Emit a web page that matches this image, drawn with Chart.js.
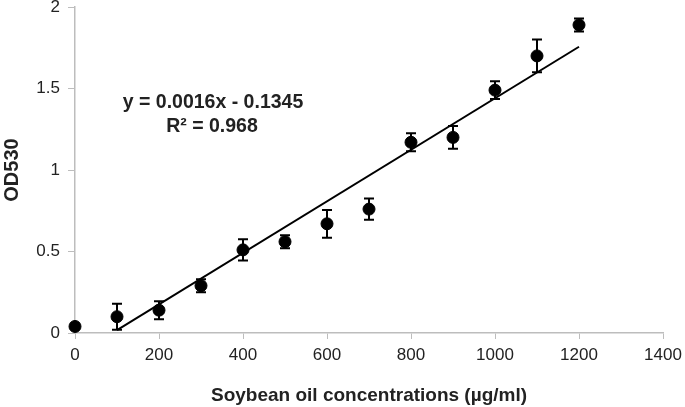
<!DOCTYPE html>
<html>
<head>
<meta charset="utf-8">
<script src="https://cdn.jsdelivr.net/npm/chart.js@4/dist/chart.umd.min.js"></script>
<style>
  html, body { margin: 0; padding: 0; background: #fff; }
  #wrap { width: 685px; height: 407px; }
</style>
</head>
<body>
<div id="wrap"><canvas id="grafico"></canvas></div>
<script>
// concentraciones y lecturas OD530
const concentraciones = [0, 100, 200, 300, 400, 500, 600, 700, 800, 900, 1000, 1100, 1200]
const od530 = [0.04, 0.10, 0.14, 0.29, 0.51, 0.56, 0.67, 0.76, 1.17, 1.20, 1.49, 1.70, 1.89]
const errores = [0, 0.08, 0.055, 0.04, 0.065, 0.04, 0.085, 0.065, 0.055, 0.07, 0.055, 0.10, 0.04]
// recta de tendencia (desde 100 hasta 1200)
const tendenciaX = [100, 1200]
const pendiente = 0.00158
const intercepto = -0.14
const ecuacion = ['y = 0.0016x - 0.1345', 'R\u00b2 = 0.968']
const xTicks = [0, 200, 400, 600, 800, 1000, 1200, 1400]
const yTicks = [0, 0.5, 1, 1.5, 2]

const puntos = concentraciones.map((x, i) => ({ x: x, y: od530[i], e: errores[i] }))
const tendencia = tendenciaX.map(x => ({ x: x, y: pendiente * x + intercepto }))

const gris = '#bdbdbd'
const texto = '#222'
const fuente = '"Liberation Sans", Arial, sans-serif'

// barras de error con tapas
const barrasError = {
   id: 'barrasError',
   afterDatasetsDraw(chart) {
      const ctx = chart.ctx
      const xs = chart.scales.x
      const ys = chart.scales.y
      ctx.save()
      ctx.strokeStyle = '#000'
      ctx.lineWidth = 2
      puntos.forEach(p => {
         if (!p.e) return
         const px = xs.getPixelForValue(p.x)
         const top = ys.getPixelForValue(p.y + p.e)
         const bot = ys.getPixelForValue(p.y - p.e)
         ctx.beginPath()
         ctx.moveTo(px, top); ctx.lineTo(px, bot)
         ctx.moveTo(px - 5, top); ctx.lineTo(px + 5, top)
         ctx.moveTo(px - 5, bot); ctx.lineTo(px + 5, bot)
         ctx.stroke()
      })
      ctx.restore()
   }
}

// texto de la ecuacion
const textoEcuacion = {
   id: 'textoEcuacion',
   afterDraw(chart) {
      const ctx = chart.ctx
      ctx.save()
      ctx.fillStyle = texto
      ctx.font = 'bold 19.5px ' + fuente
      ctx.textAlign = 'center'
      ctx.textBaseline = 'middle'
      ctx.fillText(ecuacion[0], 213, 103)
      ctx.fillText(ecuacion[1], 212, 127)
      ctx.restore()
   }
}

const ctx = document.getElementById('grafico').getContext('2d')
new Chart(ctx, {
   type: 'scatter',
   data: {
      datasets: [
         {
            label: 'Tendencia',
            type: 'line',
            data: tendencia,
            borderColor: '#000',
            borderWidth: 2,
            pointRadius: 0,
            fill: false,
            order: 2
         },
         {
            label: 'OD530',
            data: puntos,
            backgroundColor: '#000',
            borderColor: '#000',
            pointRadius: 6,
            pointHoverRadius: 6,
            clip: false,
            order: 1
         }
      ]
   },
   options: {
      responsive: true,
      maintainAspectRatio: false,
      animation: false,
      layout: { padding: { top: 7, right: 22, left: 0, bottom: 0 } },
      plugins: {
         legend: { display: false },
         tooltip: { enabled: false }
      },
      scales: {
         x: {
            type: 'linear',
            min: 0,
            max: 1400,
            afterBuildTicks: s => { s.ticks = xTicks.map(v => ({ value: v })) },
            afterFit: s => { s.height = 74; s.paddingLeft = 0; s.paddingRight = 0 },
            grid: { drawOnChartArea: false, color: gris, tickLength: 6, tickColor: gris },
            border: { color: gris, width: 1.5 },
            ticks: {
               color: texto,
               padding: 6,
               maxRotation: 0,
               callback: v => String(v),
               font: { family: fuente, size: 17 }
            },
            title: {
               display: true,
               text: 'Soybean oil concentrations (\u00b5g/ml)',
               color: texto,
               padding: { top: 13, bottom: 0 },
               font: { family: fuente, size: 19, weight: 'bold' }
            }
         },
         y: {
            min: 0,
            max: 2,
            afterBuildTicks: s => { s.ticks = yTicks.map(v => ({ value: v })) },
            afterFit: s => { s.width = 75; s.paddingTop = 0; s.paddingBottom = 0 },
            grid: { drawOnChartArea: false, color: gris, tickLength: 7, tickColor: gris },
            border: { color: gris, width: 1.5 },
            ticks: {
               color: texto,
               padding: 8,
               callback: v => String(v),
               font: { family: fuente, size: 17 }
            },
            title: {
               display: true,
               text: 'OD530',
               color: texto,
               padding: { top: 0, bottom: 0 },
               font: { family: fuente, size: 20, weight: 'bold' }
            }
         }
      }
   },
   plugins: [barrasError, textoEcuacion]
})
</script>
</body>
</html>
